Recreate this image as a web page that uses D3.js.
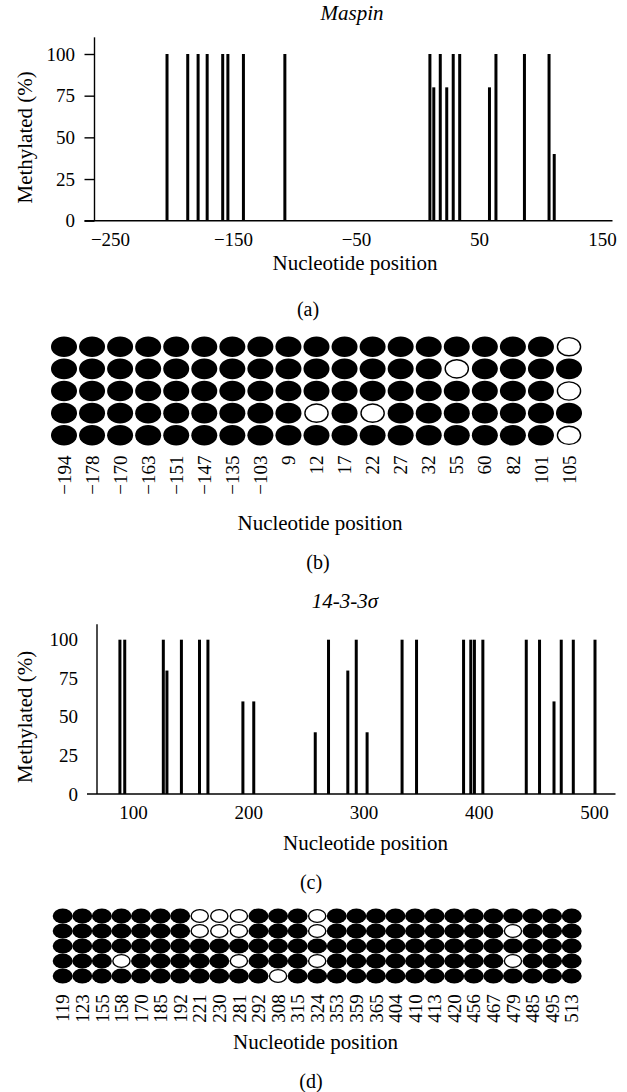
<!DOCTYPE html>
<html lang="en">
<head>
  <meta charset="UTF-8">
  <title>Maspin and 14-3-3 sigma methylation</title>
  <script src="https://d3js.org/d3.v7.min.js"></script>
  <style>
    body { margin: 0; background: #fff; }
    svg text { font-family: "Liberation Serif", "DejaVu Serif", serif !important; fill: #000; }
  </style>
</head>
<body>
<script>
  // ---- data ----
  // Maspin CpG sites and % methylated (bar chart a)
  const maspinPositions = [-194, -178, -170, -163, -151, -147, -135, -103, 9, 12, 17, 22, 27, 32, 55, 60, 82, 101, 105];
  const maspinMethylated = [100, 100, 100, 100, 100, 100, 100, 100, 100, 80, 100, 80, 100, 100, 80, 100, 100, 100, 40];
  // clones x sites, 1 = methylated (filled), 0 = unmethylated (open) (grid b)
  const maspinClones = [
    [1, 1, 1, 1, 1, 1, 1, 1, 1, 1, 1, 1, 1, 1, 1, 1, 1, 1, 0],
    [1, 1, 1, 1, 1, 1, 1, 1, 1, 1, 1, 1, 1, 1, 0, 1, 1, 1, 1],
    [1, 1, 1, 1, 1, 1, 1, 1, 1, 1, 1, 1, 1, 1, 1, 1, 1, 1, 0],
    [1, 1, 1, 1, 1, 1, 1, 1, 1, 0, 1, 0, 1, 1, 1, 1, 1, 1, 1],
    [1, 1, 1, 1, 1, 1, 1, 1, 1, 1, 1, 1, 1, 1, 1, 1, 1, 1, 0]
  ];

  // 14-3-3 sigma bars as drawn (chart c)
  const sigmaBarPositions = [119, 123, 155, 158, 170, 185, 192, 221, 230, 281, 292, 308, 315, 324, 353, 365, 404, 410, 413, 420, 456, 467, 479, 485, 495, 513];
  const sigmaBarValues = [100, 100, 100, 80, 100, 100, 100, 60, 60, 40, 100, 80, 100, 40, 100, 100, 100, 100, 100, 100, 100, 100, 60, 100, 100, 100];
  // 14-3-3 sigma CpG sites and clones (grid d)
  const sigmaSites = [119, 123, 155, 158, 170, 185, 192, 221, 230, 281, 292, 308, 315, 324, 353, 359, 365, 404, 410, 413, 420, 456, 467, 479, 485, 495, 513];
  const sigmaClones = [
    [1, 1, 1, 1, 1, 1, 1, 0, 0, 0, 1, 1, 1, 0, 1, 1, 1, 1, 1, 1, 1, 1, 1, 1, 1, 1, 1],
    [1, 1, 1, 1, 1, 1, 1, 0, 0, 0, 1, 1, 1, 0, 1, 1, 1, 1, 1, 1, 1, 1, 1, 0, 1, 1, 1],
    [1, 1, 1, 1, 1, 1, 1, 1, 1, 1, 1, 1, 1, 1, 1, 1, 1, 1, 1, 1, 1, 1, 1, 1, 1, 1, 1],
    [1, 1, 1, 0, 1, 1, 1, 1, 1, 0, 1, 1, 1, 0, 1, 1, 1, 1, 1, 1, 1, 1, 1, 0, 1, 1, 1],
    [1, 1, 1, 1, 1, 1, 1, 1, 1, 1, 1, 0, 1, 1, 1, 1, 1, 1, 1, 1, 1, 1, 1, 1, 1, 1, 1]
  ];

  // tick labels
  const yTicks = [0, 25, 50, 75, 100];
  const maspinTicks = [-250, -150, -50, 50, 150];
  const sigmaTicks = [100, 200, 300, 400, 500];

  const serif = "'Liberation Serif', 'DejaVu Serif', serif";
  const fmt = d => d < 0 ? "\u2212" + Math.abs(d) : String(d);

  const svg = d3.select("body").append("svg")
    .attr("width", 627)
    .attr("height", 1092)
    .attr("font-family", serif);

  function label(txt, x, y, size, italic) {
    svg.append("text")
      .attr("x", x).attr("y", y)
      .attr("text-anchor", "middle")
      .style("font-family", serif)
      .style("font-size", size + "px")
      .style("font-style", italic ? "italic" : "normal")
      .text(txt);
  }

  // bar chart of % methylated per CpG site
  function barPanel(o) {
    const x = d3.scaleLinear().domain(o.xDomain).range(o.xRange);
    const y = d3.scaleLinear().domain([0, 100]).range([o.y0, o.y100]);
    const g = svg.append("g");

    const gy = g.append("g")
      .attr("transform", `translate(${o.xRange[0]},0)`)
      .call(d3.axisLeft(y).tickValues(yTicks).tickSize(o.tick).tickPadding(o.pad).tickSizeOuter(0));
    gy.attr("font-family", serif);
    gy.select(".domain").remove();
    gy.selectAll("line").attr("stroke-width", 1.4);
    gy.selectAll("text").style("font-family", serif).style("font-size", "19px");

    // axis lines
    g.append("line")
      .attr("x1", o.xRange[0]).attr("x2", o.xRange[0])
      .attr("y1", y(o.yTop)).attr("y2", y(0))
      .attr("stroke", "#000").attr("stroke-width", 1.4);
    g.append("line")
      .attr("x1", o.xRange[0] - o.ext).attr("x2", o.xRange[1])
      .attr("y1", y(0)).attr("y2", y(0))
      .attr("stroke", "#000").attr("stroke-width", 1.4);

    // tick labels sit on their own spacing in the original figure
    const xl = d3.scaleLinear().domain([o.ticks[0], o.ticks[o.ticks.length - 1]]).range(o.labelRange);
    const gx = g.append("g")
      .attr("transform", `translate(0,${y(0)})`)
      .call(d3.axisBottom(xl).tickValues(o.ticks).tickSize(0).tickPadding(11.5).tickFormat(fmt));
    gx.attr("font-family", serif);
    gx.select(".domain").remove();
    gx.selectAll("text").style("font-family", serif).style("font-size", "19px");

    g.selectAll("rect.bar")
      .data(d3.zip(o.pos, o.val))
      .join("rect")
      .attr("class", "bar")
      .attr("x", d => x(d[0]) - 1.5)
      .attr("width", 3)
      .attr("y", d => y(d[1]))
      .attr("height", d => y(0) - y(d[1]))
      .attr("fill", "#000");

    svg.append("text")
      .attr("transform", `translate(25,${(y(0) + y(100)) / 2}) rotate(-90)`)
      .attr("text-anchor", "middle")
      .attr("dy", "0.35em")
      .style("font-family", serif)
      .style("font-size", "21px")
      .text("Methylated (%)");
  }

  // grid of clones: filled = methylated, open = unmethylated
  function gridPanel(o) {
    const cx = d3.scalePoint().domain(o.sites.map(String)).range(o.xRange);
    const cy = d3.scalePoint().domain(d3.range(o.clones.length)).range(o.yRange);
    const cells = o.clones.flatMap((row, i) => row.map((m, j) => ({ i, j, m })));

    svg.append("g").selectAll("ellipse")
      .data(cells)
      .join("ellipse")
      .attr("cx", d => cx(String(o.sites[d.j])))
      .attr("cy", d => cy(d.i))
      .attr("rx", d => d.m ? o.rx : o.rx - 1.4)
      .attr("ry", d => d.m ? o.ry : o.ry - 1.2)
      .attr("fill", d => d.m ? "#000" : "#fff")
      .attr("stroke", d => d.m ? "none" : "#000")
      .attr("stroke-width", 1.4);

    svg.append("g").selectAll("text")
      .data(o.sites)
      .join("text")
      .attr("transform", d => `translate(${cx(String(d))},${o.labelTop}) rotate(-90)`)
      .attr("text-anchor", "end")
      .attr("dy", "0.35em")
      .style("font-family", serif)
      .style("font-size", "19px")
      .text(fmt);
  }

  // (a) Maspin bars
  label("Maspin", 352, 20, 21, true);
  barPanel({
    xDomain: [-250, 150], xRange: [94.5, 612.5],
    y0: 220.7, y100: 54, yTop: 110,
    tick: 10, pad: 9.5, ext: 10,
    ticks: maspinTicks, labelRange: [110, 602],
    pos: maspinPositions, val: maspinMethylated
  });
  label("Nucleotide position", 355, 270, 21);
  label("(a)", 308, 316, 20);

  // (b) Maspin clones
  gridPanel({
    sites: maspinPositions, clones: maspinClones,
    xRange: [64, 569], yRange: [346.7, 435.3],
    rx: 13, ry: 10.3, labelTop: 455.5
  });
  label("Nucleotide position", 320, 530, 21);
  label("(b)", 318, 569, 20);

  // (c) 14-3-3 sigma bars
  label("14-3-3\u03c3", 345, 608, 21, true);
  barPanel({
    xDomain: [100, 530], xRange: [97, 615.5],
    y0: 794, y100: 639.7, yTop: 110,
    tick: 0, pad: 19, ext: 10,
    ticks: sigmaTicks, labelRange: [133, 594],
    pos: sigmaBarPositions, val: sigmaBarValues
  });
  label("Nucleotide position", 365.5, 850, 21);
  label("(c)", 311, 889, 20);

  // (d) 14-3-3 sigma clones
  gridPanel({
    sites: sigmaSites, clones: sigmaClones,
    xRange: [62.7, 571.7], yRange: [916, 976],
    rx: 10, ry: 7.6, labelTop: 994.3
  });
  label("Nucleotide position", 315.5, 1049, 21);
  label("(d)", 311, 1088, 20);
</script>
</body>
</html>
